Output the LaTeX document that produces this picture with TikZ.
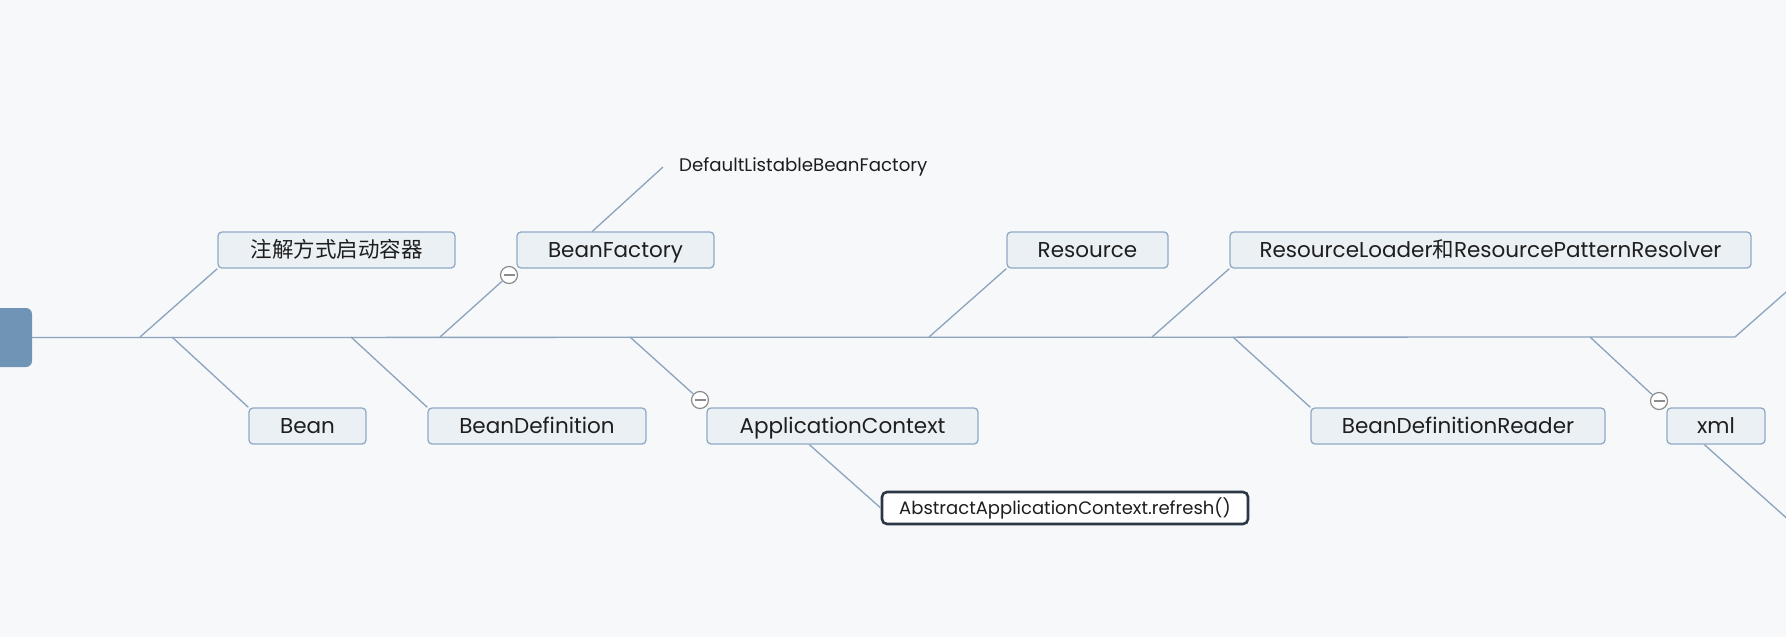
\documentclass[tikz,border=0pt]{standalone}
\usepackage{fontspec}
\setmainfont{Poppins}
\newfontfamily\cjk{Noto Sans CJK SC}
\usetikzlibrary{calc}
\definecolor{bg}{HTML}{F7F8FA}
\definecolor{ln}{HTML}{8BA3BC}
\definecolor{bx}{HTML}{8FAAC5}
\definecolor{bxfill}{HTML}{EBF0F5}
\definecolor{rootc}{HTML}{6F94B6}
\definecolor{dark}{HTML}{2B3746}
\definecolor{txt}{HTML}{1E1E1E}
\definecolor{foldc}{HTML}{8C8C8C}
\begin{document}
\begin{tikzpicture}[x=1pt,y=-1pt,
 topic/.style={draw=bx, fill=bxfill, line width=1.3pt, rounded corners=4pt, minimum height=36pt, inner sep=0pt, text height=19pt, text depth=4pt, font=\fontsize{21.5}{24}\selectfont, text=txt},
 conn/.style={draw=ln, line width=1.3pt},
 fold/.style={circle, draw=foldc, fill=white, line width=1.2pt, minimum size=17pt, inner sep=0pt,
   path picture={\draw[foldc, line width=1.2pt] ($(path picture bounding box.west)+(3pt,0)$) -- ($(path picture bounding box.east)+(-3pt,0)$);}},
]
\fill[bg] (0,0) rectangle (1786,637);
\useasboundingbox (0,0) rectangle (1786,637);

% root
\node[fill=rootc, rounded corners=6pt, minimum width=44pt, minimum height=59pt, inner sep=0pt] (root) at (10,337.5) {};

% spine
\coordinate (sp) at (1735,337);
\coordinate (spout) at (1810,271);
\draw[conn] (root.east) -- (sp) -- (spout);

% branch points on spine
\coordinate (b1) at (140,337);
\coordinate (b2) at (172,337);
\coordinate (b3) at (351,337);
\coordinate (b4) at (440,337);
\coordinate (b5) at (630,337);
\coordinate (b6) at (929,337);
\coordinate (b7) at (1152,337);
\coordinate (b8) at (1233,337);
\coordinate (b9) at (1590,337);

% topics
\node[topic, minimum width=237pt] (zj) at (336.5,250) {\cjk\fontsize{21.5}{24}\selectfont 注解方式启动容器};
\node[topic, minimum width=117pt] (bean) at (307.5,426) {Bean};
\node[topic, minimum width=218pt] (bd) at (537,426) {BeanDefinition};
\node[topic, minimum width=197pt] (bf) at (615.5,250) {BeanFactory};
\node[topic, minimum width=271pt] (ac) at (842.5,426) {ApplicationContext};
\node[topic, minimum width=161pt] (res) at (1087.5,250) {Resource};
\node[topic, minimum width=521pt] (rl) at (1490.5,250) {ResourceLoader{\cjk 和}ResourcePatternResolver};
\node[topic, minimum width=294pt] (bdr) at (1458,426) {BeanDefinitionReader};
\node[topic, minimum width=98pt] (xml) at (1716,426) {xml};

\node[anchor=west, inner xsep=16pt, inner ysep=0pt, font=\fontsize{18.2}{21}\selectfont, text=txt] (dlbf) at (663,167) {DefaultListableBeanFactory};

\node[draw=dark, fill=white, line width=2.6pt, rounded corners=5pt, minimum width=366pt, minimum height=32pt, inner sep=0pt, text height=16pt, text depth=3pt, font=\fontsize{18}{21}\selectfont, text=txt] (abs) at (1065,508) {AbstractApplicationContext.refresh()};

% fold markers
\node[fold] (f1) at (509,275) {};
\node[fold] (f2) at (700,400) {};
\node[fold] (f3) at (1659,401) {};

% connectors
\draw[conn] (b1) -- (zj.south west);
\draw[conn] (b2) -- (bean.north west);
\draw[conn] (b3) -- (bd.north west);
\draw[conn] (b4) -- (f1);
\draw[conn] (b5) -- (f2);
\draw[conn] (b6) -- (res.south west);
\draw[conn] (b7) -- (rl.south west);
\draw[conn] (b8) -- (bdr.north west);
\draw[conn] (b9) -- (f3);
\draw[conn] ($(bf.north west)+(76,0)$) -- (dlbf.west);
\draw[conn] ($(ac.south west)+(103,0)$) -- (abs.west);
\coordinate (xout) at (1810,539);
\draw[conn] ($(xml.south west)+(38,0)$) -- (xout);
\end{tikzpicture}
\end{document}
